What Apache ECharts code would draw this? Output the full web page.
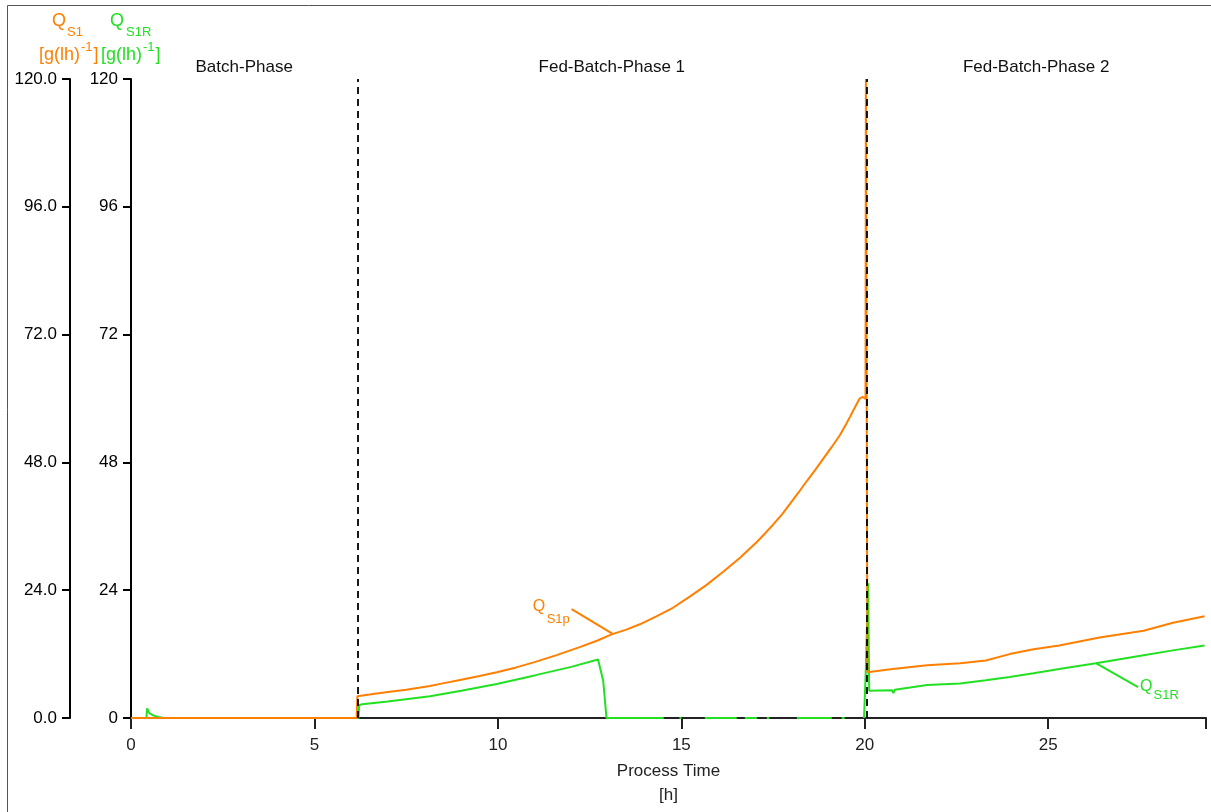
<!DOCTYPE html>
<html>
<head>
<meta charset="utf-8">
<script src="https://cdn.jsdelivr.net/npm/echarts@6/dist/echarts.min.js"></script>
<style>
html,body{margin:0;padding:0;background:#fff;}
#c{width:1211px;height:812px;}
</style>
</head>
<body>
<div id="c"></div>
<script>
// ---- data ----
const xTickStep = 5;
const xMax = 29.3;
const phaseNames = ['Batch-Phase', 'Fed-Batch-Phase 1', 'Fed-Batch-Phase 2'];
const phaseBounds = [0, 6.17, 20.04, 29.3];
const phaseLines = [6.17, 20.04];

// Q_S1 (orange) [hour, g/(l h)]
const qs1Points = [
  [0,0],[6.15,0],[6.17,4.1],[6.5,4.4],[7.0,4.9],[7.5,5.3],[8.15,6.0],[8.5,6.5],
  [9.0,7.2],[9.5,7.9],[9.97,8.6],[10.5,9.5],[11.0,10.5],[11.6,11.8],[12.23,13.3],
  [12.7,14.5],[13.1,15.7],[13.5,16.6],[13.87,17.6],[14.32,19.1],[14.77,20.7],
  [15.23,22.8],[15.69,25.0],[16.15,27.5],[16.6,30.1],[17.05,33.0],[17.3,34.8],
  [17.5,36.3],[17.75,38.3],[17.96,40.2],[18.2,42.4],[18.42,44.5],[18.65,46.6],
  [18.87,48.7],[19.1,50.9],[19.32,53.1],[19.5,55.3],[19.6,56.6],[19.75,58.6],
  [19.86,60.0],[19.95,60.3],[20.02,59.9],[20.03,120],[20.07,8.6],[20.76,9.2],
  [21.7,9.9],[22.6,10.3],[23.3,10.8],[23.95,12.0],[24.6,12.9],[25.3,13.6],
  [26.4,15.1],[27.6,16.4],[28.4,17.9],[29.26,19.1]
];

// Q_S1R (green) [hour, g/(l h)], '-' = gap in the record
const qs1rPoints = [
  [0,0],[0.42,0],[0.44,1.8],[0.5,0.9],[0.6,0.5],[0.75,0.2],[0.9,0],[3.0,0],
  [6.2,0],[6.22,2.4],[6.3,2.6],[7.0,3.1],[8.15,4.1],[9.0,5.1],[9.97,6.4],
  [11.0,8.0],[12.0,9.6],[12.73,11.0],[12.87,7.0],[12.96,0],[14.52,0],[14.7,'-'],
  [14.95,0],[15.0,0],[15.3,'-'],[15.64,0],[16.51,0],[16.6,'-'],[16.73,0],[17.06,0],
  [17.2,'-'],[17.33,0],[17.4,0],[17.8,'-'],[18.15,0],[19.1,0],[19.25,'-'],
  [19.37,0],[19.45,0],[19.7,'-'],[19.98,0],[20.03,9.5],[20.09,25.3],[20.12,5.1],
  [20.74,5.2],[20.78,4.7],[20.82,5.3],[21.7,6.2],[22.6,6.5],[23.3,7.1],[23.95,7.7],
  [24.6,8.4],[25.3,9.2],[26.3,10.3],[27.6,11.8],[28.4,12.7],[29.26,13.6]
];

// leader-line annotations: [fromX, fromY, toX, toY]
const leaderS1p = [12.01, 20.43, 13.14, 15.76];
const leaderS1R = [26.31, 10.28, 27.45, 5.79];

// ---- chart ----
const FONT = "'Liberation Sans', Arial, sans-serif";
const ORANGE = '#ff7f00';
const GREEN = '#22e022';
const FS = 17;
const chart = echarts.init(document.getElementById('c'), null, {renderer: 'canvas'});

const axisCommon = {
  type: 'value', min: 0, max: 120, interval: 24,
  axisLine: {show: true, lineStyle: {color: '#000', width: 2}},
  axisTick: {show: true, length: 8, lineStyle: {color: '#000', width: 2}},
  splitLine: {show: false},
};

chart.setOption({
  animation: false,
  backgroundColor: '#fff',
  textStyle: {fontFamily: FONT},
  grid: {left: 131, right: 5, top: 79, bottom: 91, containLabel: false},
  xAxis: {
    type: 'value', min: 0, max: xMax, interval: xTickStep,
    axisLine: {show: true, onZero: false, lineStyle: {color: '#222', width: 2}},
    axisTick: {show: true, length: 11, lineStyle: {color: '#222', width: 2}},
    axisLabel: {fontSize: FS, color: '#222', margin: 19, fontFamily: FONT,
      formatter: v => (v % 5 === 0 ? String(v) : '')},
    splitLine: {show: false},
    name: 'Process Time\n[h]', nameLocation: 'middle', nameGap: 41,
    nameTextStyle: {fontSize: FS, color: '#222', lineHeight: 24, fontFamily: FONT}
  },
  yAxis: [
    Object.assign({}, axisCommon, {
      position: 'left', offset: 0,
      axisLabel: {fontSize: FS, color: '#000', margin: 13, fontFamily: FONT,
        formatter: v => String(v)}
    }),
    Object.assign({}, axisCommon, {
      position: 'left', offset: 61,
      axisLabel: {fontSize: FS, color: '#000', margin: 13, fontFamily: FONT,
        formatter: v => v.toFixed(1)}
    })
  ],
  series: [
    {
      name: 'QS1R', type: 'line', yAxisIndex: 0, data: qs1rPoints,
      showSymbol: false, connectNulls: false, z: 3,
      lineStyle: {color: GREEN, width: 2}, itemStyle: {color: GREEN}
    },
    {
      name: 'QS1', type: 'line', yAxisIndex: 1, data: qs1Points,
      showSymbol: false, z: 4,
      lineStyle: {color: ORANGE, width: 2}, itemStyle: {color: ORANGE}
    },
    {
      name: 'phases', type: 'line', data: [], z: 5,
      markLine: {
        silent: true, symbol: ['none', 'none'], animation: false,
        label: {show: false},
        lineStyle: {color: '#000', type: [7, 5], width: 2, opacity: 0.9},
        data: phaseLines.map(x => ({xAxis: x}))
      }
    }
  ]
});

// ---- texts and leader lines placed through the chart's own scales ----
function px(x, y) { return chart.convertToPixel({gridIndex: 0}, [x, y]); }
const g = [];

// frame
g.push({type: 'rect', silent: true, shape: {x: 7.5, y: 5.5, width: 1300, height: 900},
  style: {fill: 'none', stroke: '#555', lineWidth: 1}, z: 0});

// phase labels
for (let i = 0; i < phaseNames.length; i++) {
  const c = px((phaseBounds[i] + phaseBounds[i + 1]) / 2, 120);
  g.push({type: 'text', x: c[0], y: 67, silent: true,
    style: {text: phaseNames[i], fill: '#111', font: FS + 'px ' + FONT, textAlign: 'center', textVerticalAlign: 'middle'}});
}

function txt(x, y, s, size, color) {
  g.push({type: 'text', x: x, y: y, silent: true,
    style: {text: s, fill: color, font: size + 'px ' + FONT, textAlign: 'left', textVerticalAlign: 'middle'}});
}

// axis titles
txt(52, 21, 'Q', 18, ORANGE); txt(67, 32, 'S1', 13, ORANGE);
txt(39, 55, '[g(lh)', 18, ORANGE); txt(81, 47, '-1', 13, ORANGE); txt(93.5, 55, ']', 18, ORANGE);
txt(110, 21, 'Q', 18, GREEN); txt(126, 32, 'S1R', 13, GREEN);
txt(101, 55, '[g(lh)', 18, GREEN); txt(143, 47, '-1', 13, GREEN); txt(155.5, 55, ']', 18, GREEN);

// leader: Q_S1p
{
  const a = px(leaderS1p[0], leaderS1p[1]), b = px(leaderS1p[2], leaderS1p[3]);
  g.push({type: 'line', silent: true, shape: {x1: a[0], y1: a[1], x2: b[0], y2: b[1]},
    style: {stroke: ORANGE, lineWidth: 2}});
  txt(a[0] - 39, a[1] - 3, 'Q', 16, ORANGE);
  txt(a[0] - 25, a[1] + 10.5, 'S1p', 13, ORANGE);
}
// leader: Q_S1R
{
  const a = px(leaderS1R[0], leaderS1R[1]), b = px(leaderS1R[2], leaderS1R[3]);
  g.push({type: 'line', silent: true, shape: {x1: a[0], y1: a[1], x2: b[0], y2: b[1]},
    style: {stroke: GREEN, lineWidth: 2}});
  txt(b[0] + 2, b[1] - 1, 'Q', 16, GREEN);
  txt(b[0] + 15.5, b[1] + 8, 'S1R', 13, GREEN);
}

chart.setOption({graphic: {elements: g}});
</script>
</body>
</html>
